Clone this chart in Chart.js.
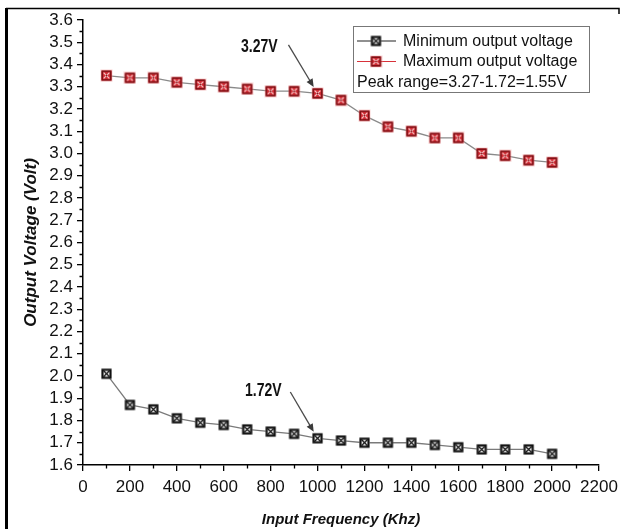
<!DOCTYPE html>
<html>
<head>
<meta charset="utf-8">
<script src="https://cdn.jsdelivr.net/npm/chart.js@4/dist/chart.umd.min.js"></script>
<style>
  html, body { margin: 0; padding: 0; background: #fff; }
  #wrap { width: 620px; height: 529px; position: relative; }
</style>
</head>
<body>
<div id="wrap"><canvas id="c" width="620" height="529"></canvas></div>
<script>
// Input frequency (kHz) for each measurement
const frequencies = [100, 200, 300, 400, 500, 600, 700, 800, 900, 1000,
                     1100, 1200, 1300, 1400, 1500, 1600, 1700, 1800, 1900, 2000];
// Minimum output voltage (V)
const minVoltage = [2.01, 1.87, 1.85, 1.81, 1.79, 1.78, 1.76, 1.75, 1.74, 1.72,
                    1.71, 1.70, 1.70, 1.70, 1.69, 1.68, 1.67, 1.67, 1.67, 1.65];
// Maximum output voltage (V)
const maxVoltage = [3.35, 3.34, 3.34, 3.32, 3.31, 3.30, 3.29, 3.28, 3.28, 3.27,
                    3.24, 3.17, 3.12, 3.10, 3.07, 3.07, 3.00, 2.99, 2.97, 2.96];
// Axis tick labels
const xTickLabels = ['0', '200', '400', '600', '800', '1000', '1200', '1400', '1600', '1800', '2000', '2200'];
const yTickLabels = ['1.6', '1.7', '1.8', '1.9', '2.0', '2.1', '2.2', '2.3', '2.4', '2.5', '2.6',
                     '2.7', '2.8', '2.9', '3.0', '3.1', '3.2', '3.3', '3.4', '3.5', '3.6'];

// Index of the 1000 kHz reading used for the peak-range callouts
const calloutIndex = frequencies.indexOf(1000);

const FONT = '"Liberation Sans", Arial, Helvetica, sans-serif';

// Square "box with X" marker glyphs
function makeMarker(kind) {
  const s = 13;
  const c = document.createElement('canvas');
  c.width = s; c.height = s;
  const g = c.getContext('2d');
  if (kind === 'min') {
    g.fillStyle = '#ffffff';
    g.fillRect(1.5, 1.5, 10, 10);
    g.strokeStyle = '#111';
    g.lineWidth = 2.2;
    g.strokeRect(2.5, 2.5, 8, 8);
    g.lineWidth = 1.3;
    g.beginPath();
    g.moveTo(3.5, 3.5); g.lineTo(9.5, 9.5);
    g.moveTo(9.5, 3.5); g.lineTo(3.5, 9.5);
    g.stroke();
  } else {
    g.fillStyle = 'rgba(240,150,150,0.45)';
    g.fillRect(0.5, 0.5, 12, 12);
    g.fillStyle = '#d02a33';
    g.fillRect(1.5, 1.5, 10, 10);
    g.strokeStyle = '#7e0f14';
    g.lineWidth = 1.5;
    g.strokeRect(2.2, 2.2, 8.6, 8.6);
    g.strokeStyle = '#ffd6d6';
    g.lineWidth = 1.2;
    g.beginPath();
    g.moveTo(3.6, 3.6); g.lineTo(9.4, 9.4);
    g.moveTo(9.4, 3.6); g.lineTo(3.6, 9.4);
    g.stroke();
    g.fillStyle = '#7e0f14';
    g.fillRect(5.7, 5.7, 1.6, 1.6);
  }
  return c;
}
const minMarker = makeMarker('min');
const maxMarker = makeMarker('max');

const peakMax = maxVoltage[calloutIndex];
const peakMin = minVoltage[calloutIndex];

// Callouts: label position and arrow tail given in data units; the arrow points at the reading
const callouts = [
  { values: maxVoltage, label: peakMax.toFixed(2) + 'V', labelAt: { x: 752, y: 3.478 }, tail: { x: 876, y: 3.488 } },
  { values: minVoltage, label: peakMin.toFixed(2) + 'V', labelAt: { x: 769, y: 1.932 }, tail: { x: 884, y: 1.928 } }
];

const legendItems = [
  { text: 'Minimum output voltage', marker: minMarker, line: '#222' },
  { text: 'Maximum output voltage', marker: maxMarker, line: '#d8323a' },
  { text: 'Peak range=' + peakMax.toFixed(2) + '-' + peakMin.toFixed(2) + '=' + (peakMax - peakMin).toFixed(2) + 'V' }
];

function drawArrow(ctx, x1, y1, x2, y2) {
  const ang = Math.atan2(y2 - y1, x2 - x1);
  const len = 8, half = 3.5;
  ctx.save();
  ctx.strokeStyle = '#4a4a4a';
  ctx.fillStyle = '#3a3a3a';
  ctx.lineWidth = 1.3;
  ctx.beginPath();
  ctx.moveTo(x1, y1);
  ctx.lineTo(x2 - Math.cos(ang) * len * 0.8, y2 - Math.sin(ang) * len * 0.8);
  ctx.stroke();
  ctx.beginPath();
  ctx.moveTo(x2, y2);
  ctx.lineTo(x2 - Math.cos(ang) * len + Math.sin(ang) * half, y2 - Math.sin(ang) * len - Math.cos(ang) * half);
  ctx.lineTo(x2 - Math.cos(ang) * len - Math.sin(ang) * half, y2 - Math.sin(ang) * len + Math.cos(ang) * half);
  ctx.closePath();
  ctx.fill();
  ctx.restore();
}

const decorations = {
  id: 'decorations',
  beforeDraw(chart) {
    const ctx = chart.ctx;
    ctx.save();
    ctx.fillStyle = '#fff';
    ctx.fillRect(0, 0, chart.width, chart.height);
    // figure frame
    ctx.strokeStyle = '#000';
    ctx.lineWidth = 3;
    ctx.beginPath();
    ctx.moveTo(6.5, 8); ctx.lineTo(6.5, chart.height);
    ctx.stroke();
    ctx.lineWidth = 1.5;
    ctx.beginPath();
    ctx.moveTo(6, 8.5); ctx.lineTo(619, 8.5); ctx.lineTo(619, 14);
    ctx.stroke();
    ctx.restore();
  },
  afterDraw(chart) {
    const ctx = chart.ctx;
    const xs = chart.scales.x, ys = chart.scales.y;
    ctx.save();
    // minor ticks
    ctx.strokeStyle = '#000';
    ctx.lineWidth = 1.3;
    ctx.beginPath();
    for (let v = 100; v < 2200; v += 200) {
      const px = Math.round(xs.getPixelForValue(v)) + 0.5;
      ctx.moveTo(px, xs.top); ctx.lineTo(px, xs.top + 3.5);
    }
    for (let i = 0; i < 20; i++) {
      const py = Math.round(ys.getPixelForValue(1.65 + i * 0.1)) + 0.5;
      ctx.moveTo(ys.right, py); ctx.lineTo(ys.right - 3.5, py);
    }
    ctx.stroke();

    // callouts
    ctx.font = 'bold 18px ' + FONT;
    ctx.fillStyle = '#111';
    ctx.textAlign = 'center';
    ctx.textBaseline = 'middle';
    callouts.forEach(c => {
      const px = xs.getPixelForValue(frequencies[calloutIndex]);
      const py = ys.getPixelForValue(c.values[calloutIndex]);
      const tx = xs.getPixelForValue(c.tail.x), ty = ys.getPixelForValue(c.tail.y);
      const d = Math.hypot(px - tx, py - ty);
      const hx = px - (px - tx) / d * 7.5, hy = py - (py - ty) / d * 7.5;
      drawArrow(ctx, tx, ty, hx, hy);
      ctx.save();
      ctx.translate(xs.getPixelForValue(c.labelAt.x), ys.getPixelForValue(c.labelAt.y));
      ctx.scale(0.78, 1);
      ctx.fillText(c.label, 0, 0);
      ctx.restore();
    });

    // legend box
    const bx = 353.5, by = 26.5, bw = 236, bh = 66;
    ctx.fillStyle = '#fff';
    ctx.fillRect(bx, by, bw, bh);
    ctx.strokeStyle = '#777';
    ctx.lineWidth = 1;
    ctx.strokeRect(bx, by, bw, bh);
    ctx.font = '16px ' + FONT;
    ctx.textAlign = 'left';
    ctx.textBaseline = 'middle';
    legendItems.forEach((it, i) => {
      const cy = 41 + i * 20.5;
      if (it.marker) {
        ctx.strokeStyle = it.line;
        ctx.lineWidth = 1.2;
        ctx.beginPath();
        ctx.moveTo(357, cy); ctx.lineTo(396, cy);
        ctx.stroke();
        ctx.drawImage(it.marker, 376 - 6.5, cy - 6.5);
        ctx.fillStyle = '#111';
        ctx.fillText(it.text, 403, cy + 0.5);
      } else {
        ctx.fillStyle = '#111';
        ctx.fillText(it.text, 357, cy + 0.5);
      }
    });
    ctx.restore();
  }
};

const tickFont = { family: FONT, size: 17 };

new Chart(document.getElementById('c'), {
  type: 'line',
  data: {
    datasets: [
      {
        label: 'Minimum output voltage',
        data: frequencies.map((f, i) => ({ x: f, y: minVoltage[i] })),
        borderColor: '#7a7a7a',
        borderWidth: 1.3,
        pointStyle: minMarker,
        pointRadius: 6,
        tension: 0
      },
      {
        label: 'Maximum output voltage',
        data: frequencies.map((f, i) => ({ x: f, y: maxVoltage[i] })),
        borderColor: '#8a8a8a',
        borderWidth: 1.3,
        pointStyle: maxMarker,
        pointRadius: 6,
        tension: 0
      }
    ]
  },
  options: {
    responsive: false,
    animation: false,
    devicePixelRatio: 1,
    layout: { padding: { left: 0, right: 21, top: 20, bottom: 0 } },
    plugins: { legend: { display: false }, tooltip: { enabled: false } },
    scales: {
      x: {
        type: 'linear',
        min: 0,
        max: 2200,
        afterBuildTicks: s => { s.ticks = xTickLabels.map(t => ({ value: Number(t) })); },
        afterFit: s => { s.height = 64; s.paddingLeft = 0; s.paddingRight = 0; },
        ticks: {
          font: tickFont, color: '#111', padding: 6, maxRotation: 0, autoSkip: false,
          callback: (v, i) => xTickLabels[i]
        },
        grid: { display: true, drawOnChartArea: false, drawTicks: true, tickLength: 6, color: '#000', lineWidth: 1.3 },
        border: { display: true, color: '#000', width: 1.5 },
        title: { display: true, text: 'Input Frequency (Khz)', font: { family: FONT, size: 15, weight: 'bold', style: 'italic' }, color: '#111', padding: { top: 0, bottom: 0 } }
      },
      y: {
        type: 'linear',
        min: 1.6,
        max: 3.6,
        afterBuildTicks: s => { s.ticks = yTickLabels.map(t => ({ value: Number(t) })); },
        afterFit: s => { s.width = 83; s.paddingTop = 0; s.paddingBottom = 0; },
        ticks: {
          font: tickFont, color: '#111', padding: 4, autoSkip: false,
          callback: (v, i) => yTickLabels[i]
        },
        grid: { display: true, drawOnChartArea: false, drawTicks: true, tickLength: 6, color: '#000', lineWidth: 1.3 },
        border: { display: true, color: '#000', width: 1.5 },
        title: { display: true, text: 'Output Voltage (Volt)', font: { family: FONT, size: 17, weight: 'bold', style: 'italic' }, color: '#111', padding: { top: 21, bottom: 0 } }
      }
    }
  },
  plugins: [decorations]
});
</script>
</body>
</html>
